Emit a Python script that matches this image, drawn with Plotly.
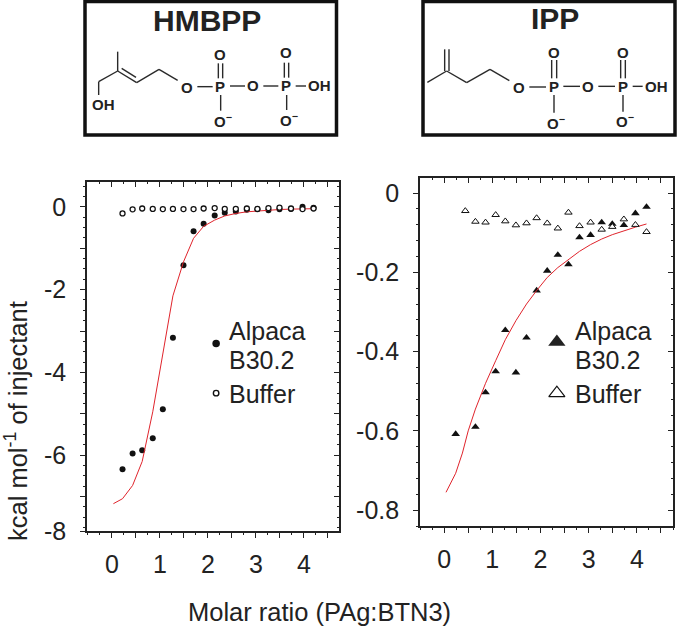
import plotly.graph_objects as go

W, H = 677, 630
INK = "#222222"

# ---- HMBPP panel data
hm_x = [0.22, 0.43, 0.63, 0.85, 1.06, 1.27, 1.49, 1.70, 1.91, 2.14, 2.35, 2.58, 2.81, 3.03, 3.26, 3.49, 3.73, 3.97, 4.20]
hm_alpaca = [-6.34, -5.96, -5.88, -5.59, -4.89, -3.16, -1.41, -0.59, -0.41, -0.21, -0.14, -0.11, -0.07, -0.06, -0.08, -0.06, -0.05, 0.0, -0.02]
hm_buffer = [-0.16, -0.06, -0.04, -0.05, -0.055, -0.05, -0.055, -0.055, -0.04, -0.03, -0.05, -0.05, -0.04, -0.05, -0.03, -0.02, -0.04, -0.055, -0.04]
hm_fit_x = [0.03, 0.22, 0.43, 0.63, 0.85, 1.06, 1.27, 1.49, 1.70, 1.91, 2.14, 2.35, 2.58, 2.81, 3.03, 3.26, 3.49, 3.73, 3.97, 4.20]
hm_fit_y = [-7.17, -7.05, -6.73, -6.15, -4.95, -3.54, -2.15, -1.33, -0.76, -0.47, -0.32, -0.22, -0.16, -0.12, -0.10, -0.08, -0.065, -0.055, -0.05, -0.045]

# ---- IPP panel data
ipp_alpaca_x = [0.24, 0.65, 0.86, 1.07, 1.27, 1.49, 1.71, 1.92, 2.14, 2.36, 2.58, 2.81, 3.04, 3.27, 3.49, 3.73, 3.97, 4.20]
ipp_alpaca = [-0.608, -0.59, -0.503, -0.45, -0.346, -0.453, -0.365, -0.246, -0.196, -0.156, -0.18, -0.112, -0.106, -0.074, -0.078, -0.081, -0.051, -0.035]
ipp_buffer_x = [0.44, 0.65, 0.86, 1.07, 1.27, 1.49, 1.71, 1.92, 2.14, 2.36, 2.58, 2.81, 3.04, 3.27, 3.49, 3.73, 3.97, 4.20]
ipp_buffer = [-0.045, -0.072, -0.074, -0.055, -0.071, -0.081, -0.076, -0.063, -0.076, -0.089, -0.049, -0.083, -0.074, -0.092, -0.085, -0.066, -0.08, -0.098]
ipp_fit_x = [0.04, 0.24, 0.38, 0.50, 0.65, 0.86, 1.07, 1.27, 1.49, 1.71, 1.92, 2.14, 2.36, 2.58, 2.81, 3.04, 3.27, 3.49, 3.73, 3.97, 4.20]
ipp_fit_y = [-0.755, -0.707, -0.656, -0.60, -0.545, -0.48, -0.423, -0.37, -0.322, -0.28, -0.246, -0.213, -0.188, -0.167, -0.147, -0.13, -0.116, -0.105, -0.095, -0.086, -0.078]

# ---- ticks and tick labels
x_ticks = [0, 1, 2, 3, 4]
x_labels = ["0", "1", "2", "3", "4"]
x_half_ticks = [0.5, 1.5, 2.5, 3.5, 4.5]
hm_y_ticks = [0, -2, -4, -6, -7.83]
hm_y_labels = ["0", "-2", "-4", "-6", "-8"]
hm_y_odd_ticks = [-1, -3, -5, -7]
ipp_y_ticks = [0, -0.2, -0.4, -0.6, -0.8]
ipp_y_labels = ["0", "-0.2", "-0.4", "-0.6", "-0.8"]

FONT = "Liberation Sans"
px = lambda x: x / W
py = lambda y: 1 - y / H

fig = go.Figure()

def scatter(x, y, xa, ya, sym, size, fill, lw=1.4):
    fig.add_trace(go.Scatter(x=x, y=y, xaxis=xa, yaxis=ya, mode="markers", showlegend=False,
                             marker=dict(symbol=sym, size=size, color=fill, line=dict(color="#111111", width=lw))))

def fit(x, y, xa, ya):
    fig.add_trace(go.Scatter(x=x, y=y, xaxis=xa, yaxis=ya, mode="lines", showlegend=False,
                             line=dict(color="#e0242c", width=1.0)))

# left panel
scatter(hm_x, hm_alpaca, "x", "y", "circle", 6, "#111111", 0)
fit(hm_fit_x, hm_fit_y, "x", "y")
scatter(hm_x, hm_buffer, "x", "y", "circle", 5, "white", 1.3)
scatter([2.17], [-3.3], "x", "y", "circle", 7.5, "#111111", 0)
scatter([2.17], [-4.5], "x", "y", "circle", 5.5, "white", 1.4)

# right panel
scatter(ipp_alpaca_x, ipp_alpaca, "x2", "y2", "triangle-up", 7.5, "#111111", 0)
fit(ipp_fit_x, ipp_fit_y, "x2", "y2")
scatter(ipp_buffer_x, ipp_buffer, "x2", "y2", "triangle-up", 6.5, "white", 1.0)
scatter([2.34], [-0.376], "x2", "y2", "triangle-up", 15, "#222222", 0)
scatter([2.34], [-0.505], "x2", "y2", "triangle-up", 14, "white", 1.2)

# invisible traces keep the extra tick axes alive
for n in (3, 4, 5, 6):
    fig.add_trace(go.Scatter(x=[0], y=[0], xaxis=f"x{n}", yaxis=f"y{n}", mode="markers",
                             marker=dict(opacity=0), showlegend=False, hoverinfo="skip"))

def axis(dom, rng, vals, labels, minor, ticks, standoff=0, **kw):
    d = dict(domain=dom, range=rng, showgrid=False, zeroline=False, showline=True, linecolor=INK, linewidth=1.6,
             automargin=False, tickmode="array", tickvals=vals, ticks=ticks, ticklen=5, tickwidth=1.4, tickcolor=INK)
    if labels:
        d.update(ticktext=labels, showticklabels=True, ticklabelstandoff=standoff,
                 tickfont=dict(family=FONT, size=25, color=INK))
    else:
        d.update(showticklabels=False)
    if minor:
        d["minor"] = dict(dtick=minor, tick0=0, ticklen=2.5, tickwidth=1.2, tickcolor=INK, showgrid=False, ticks=ticks)
    d.update(kw)
    return d

xd1 = [px(87), px(339)]
yd1 = [py(531), py(182)]
xd2 = [px(420), px(673)]
yd2 = [py(526), py(178)]
xr1 = [-0.52, 4.73]
yr1 = [-7.83, 0.6]
xr2 = [-0.5, 4.75]
yr2 = [-0.84, 0.038]

hm_y_all = hm_y_ticks + hm_y_odd_ticks
x_all = x_ticks + x_half_ticks

fig.update_layout(
    width=W, height=H, margin=dict(l=0, r=0, t=0, b=0, autoexpand=False), paper_bgcolor="white", plot_bgcolor="white",
    showlegend=False,
    # labelled bottom / left axes
    xaxis=axis(xd1, xr1, x_ticks, x_labels, 0.25, "outside", 5, anchor="y"),
    yaxis=axis(yd1, yr1, hm_y_ticks, hm_y_labels, 0.25, "outside", 9, anchor="x"),
    xaxis2=axis(xd2, xr2, x_ticks, x_labels, 0.25, "outside", 5, anchor="y2"),
    yaxis2=axis(yd2, yr2, ipp_y_ticks, ipp_y_labels, 0.04, "outside", 9, anchor="x2"),
    # top / right frame with inward ticks
    xaxis3=axis(xd1, xr1, x_all, None, 0.25, "inside", anchor="y3", side="top", overlaying="x"),
    yaxis3=axis(yd1, yr1, hm_y_all, None, 0.25, "inside", anchor="x3", side="right", overlaying="y"),
    xaxis4=axis(xd2, xr2, x_all, None, 0.25, "inside", anchor="y4", side="top", overlaying="x2"),
    yaxis4=axis(yd2, yr2, ipp_y_ticks, None, 0.04, "inside", anchor="x4", side="right", overlaying="y2"),
    # unlabelled long ticks on the bottom / left
    xaxis5=axis(xd1, xr1, x_half_ticks, None, None, "outside", anchor="y5", overlaying="x"),
    yaxis5=axis(yd1, yr1, hm_y_odd_ticks, None, None, "outside", anchor="x5", overlaying="y"),
    xaxis6=axis(xd2, xr2, x_half_ticks, None, None, "outside", anchor="y6", overlaying="x2"),
    yaxis6=axis(yd2, yr2, ipp_y_ticks, None, None, "outside", anchor="x6", overlaying="y2"),
)

def text(x, y, s, size=22, bold=False, angle=0, xanchor="center", color=INK):
    fig.add_annotation(xref="paper", yref="paper", x=px(x), y=py(y), text=f"<b>{s}</b>" if bold else s,
                       showarrow=False, xanchor=xanchor, yanchor="middle", textangle=angle, borderpad=0, align="left",
                       font=dict(family=FONT, size=size, color=color))

def seg(x0, y0, x1, y1, w=1.4):
    fig.add_shape(type="line", xref="paper", yref="paper", x0=px(x0), y0=py(y0), x1=px(x1), y1=py(y1),
                  line=dict(color="#2a2a2a", width=w))

def box(x0, y0, x1, y1):
    fig.add_shape(type="rect", xref="paper", yref="paper", x0=px(x0), y0=py(y0), x1=px(x1), y1=py(y1),
                  line=dict(color="#111111", width=3.5), fillcolor="white", layer="below")

# zoomed crop coordinates -> page pixels
def mol_lines(ox, items):
    for a, b, c, d in items:
        seg(ox + a / 3, b / 3, ox + c / 3, d / 3)

def mol_text(ox, items):
    for a, b, s in items:
        text(ox + a / 3, b / 3, s, size=15, bold=True)

# HMBPP structure
box(85, 1.5, 336.5, 135)
text(207, 20, "HMBPP", size=30, bold=True)
mol_lines(0, [(296, 285, 296, 245), (296, 245, 353, 213), (353, 213, 353, 155), (353, 213, 410, 248),
              (365, 205, 408, 232), (410, 248, 477, 208), (477, 208, 533, 241), (592, 260, 638, 260),
              (690, 258, 735, 258), (790, 258, 835, 258), (887, 258, 918, 258), (662, 285, 662, 332),
              (860, 285, 860, 330), (655, 190, 655, 235), (668, 190, 668, 235), (853, 188, 853, 233), (866, 188, 866, 233)])
mol_text(0, [(310, 313, "OH"), (562, 262, "O"), (660, 260, "P"), (760, 258, "O"), (858, 258, "P"), (957, 258, "OH"),
             (660, 162, "O"), (858, 158, "O"), (668, 360, "O<sup>−</sup>"), (866, 357, "O<sup>−</sup>")])

# IPP structure
box(423, 1.5, 675, 135)
text(555, 18, "IPP", size=30, bold=True)
mol_lines(340, [(262, 247, 320, 213), (320, 213, 380, 248), (314, 213, 314, 148), (327, 213, 327, 148),
                (380, 248, 450, 208), (450, 208, 508, 242), (568, 261, 618, 261), (670, 259, 720, 259),
                (775, 259, 825, 259), (878, 259, 908, 259), (642, 285, 642, 338), (849, 285, 849, 335),
                (635, 180, 635, 235), (650, 180, 650, 235), (842, 180, 842, 235), (856, 180, 856, 235)])
mol_text(340, [(537, 263, "O"), (641, 261, "P"), (743, 261, "O"), (848, 259, "P"), (950, 261, "OH"),
               (641, 157, "O"), (848, 157, "O"), (648, 367, "O<sup>−</sup>"), (856, 363, "O<sup>−</sup>")])

# legend texts
text(228, 331, "Alpaca", size=25, xanchor="left")
text(228, 360, "B30.2", size=25, xanchor="left")
text(228, 394, "Buffer", size=25, xanchor="left")
text(574, 331, "Alpaca", size=25, xanchor="left")
text(574, 360, "B30.2", size=25, xanchor="left")
text(574, 394, "Buffer", size=25, xanchor="left")

# axis titles
text(319, 612, "Molar ratio (PAg:BTN3)", size=25.5)
text(16, 421, "kcal mol<sup>-1</sup> of injectant", size=25.5, angle=-90)

fig.write_html("out.html", config={"displayModeBar": False}, post_script="document.body.style.margin='0';")
